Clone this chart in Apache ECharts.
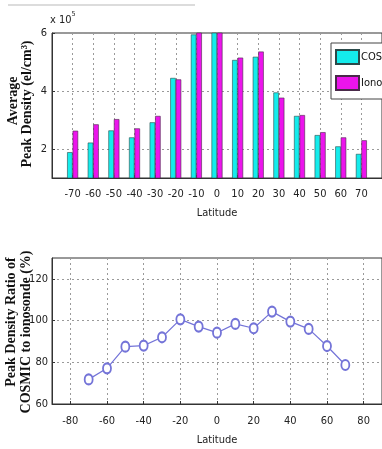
<!DOCTYPE html>
<html>
<head>
<meta charset="utf-8">
<script src="https://cdn.jsdelivr.net/npm/echarts@6/dist/echarts.min.js"></script>
<style>
  html, body { margin: 0; padding: 0; background: #fff; }
  #chart { width: 382px; height: 449px; }
</style>
</head>
<body>
<div id="chart"></div>
<script>
// Upper panel: average peak density per latitude bin (x 10^5 el/cm^3)
const latitudes = [-70, -60, -50, -40, -30, -20, -10, 0, 10, 20, 30, 40, 50, 60, 70];
const cosDensity = [1.89, 2.22, 2.64, 2.40, 2.92, 4.45, 5.95, 6.30, 5.07, 5.18, 3.95, 3.14, 2.48, 2.09, 1.83];
const ionoDensity = [2.63, 2.85, 3.03, 2.71, 3.14, 4.40, 6.10, 6.40, 5.15, 5.36, 3.77, 3.17, 2.58, 2.40, 2.30];
const densityTicks = [2, 4, 6];
const densityLatTicks = [-70, -60, -50, -40, -30, -20, -10, 0, 10, 20, 30, 40, 50, 60, 70];

// Lower panel: COSMIC / ionosonde peak density ratio (%)
const ratioLat = [-70, -60, -50, -40, -30, -20, -10, 0, 10, 20, 30, 40, 50, 60, 70];
const ratioPct = [71.8, 77.1, 87.5, 88.0, 92.0, 100.6, 97.1, 94.2, 98.4, 96.3, 104.3, 99.5, 96.0, 87.8, 78.7];
const ratioTicks = [60, 80, 100, 120];
const ratioLatTicks = [-80, -60, -40, -20, 0, 20, 40, 60, 80];

const narrow = "'Liberation Sans Narrow','DejaVu Sans Condensed',sans-serif";
const serif = "'Liberation Serif','DejaVu Serif',serif";
const gridLine = { show: true, lineStyle: { color: '#9a9a9a', type: [2, 3], width: 1 } };
const tickLabel = { color: '#222', fontFamily: narrow, fontSize: 11 };
const axisLine = { show: true, onZero: false, lineStyle: { color: '#333' } };

const chart = echarts.init(document.getElementById('chart'), null, { renderer: 'canvas' });

chart.setOption({
  animation: false,
  backgroundColor: '#fff',
  grid: [
    { left: 52, top: 33, width: 331, height: 145, show: true, borderColor: '#333', borderWidth: 1, backgroundColor: 'transparent' },
    { left: 52, top: 258, width: 331, height: 146, show: true, borderColor: '#333', borderWidth: 1, backgroundColor: 'transparent' }
  ],
  legend: {
    data: ['COS', 'Iono'],
    orient: 'vertical',
    icon: 'rect',
    left: 331,
    top: 43,
    padding: [6, 24, 8, 4],
    itemGap: 10,
    itemWidth: 23,
    itemHeight: 14,
    backgroundColor: '#fff',
    borderColor: '#444',
    borderWidth: 1,
    textStyle: { fontFamily: narrow, fontSize: 11, color: '#111', padding: [0, 0, 0, -3] }
  },
  xAxis: [
    {
      gridIndex: 0, type: 'value', min: -80, max: 80,
      axisLine: axisLine,
      axisTick: { show: true, inside: true, length: 3, customValues: densityLatTicks, lineStyle: { color: '#333' } },
      axisLabel: { ...tickLabel, margin: 11, customValues: densityLatTicks },
      splitLine: gridLine,
      name: 'Latitude', nameLocation: 'middle', nameGap: 30,
      nameTextStyle: { fontFamily: narrow, fontSize: 11, color: '#222' }
    },
    {
      gridIndex: 1, type: 'value', min: -90, max: 90,
      axisLine: axisLine,
      axisTick: { show: true, inside: true, length: 3, customValues: ratioLatTicks, lineStyle: { color: '#333' } },
      axisLabel: { ...tickLabel, margin: 12, customValues: ratioLatTicks },
      splitLine: gridLine,
      name: 'Latitude', nameLocation: 'middle', nameGap: 31,
      nameTextStyle: { fontFamily: narrow, fontSize: 11, color: '#222' }
    }
  ],
  yAxis: [
    {
      gridIndex: 0, type: 'value', min: 1, max: 6,
      axisLine: axisLine,
      axisTick: { show: true, inside: true, length: 3, customValues: densityTicks, lineStyle: { color: '#333' } },
      axisLabel: { ...tickLabel, margin: 5, customValues: densityTicks },
      splitLine: gridLine
    },
    {
      gridIndex: 1, type: 'value', min: 60, max: 130,
      axisLine: axisLine,
      axisTick: { show: true, inside: true, length: 3, customValues: ratioTicks, lineStyle: { color: '#333' } },
      axisLabel: { ...tickLabel, margin: 4, customValues: ratioTicks },
      splitLine: gridLine
    }
  ],
  series: [
    {
      name: 'COS', type: 'bar', xAxisIndex: 0, yAxisIndex: 0,
      data: latitudes.map((lat, i) => [lat, cosDensity[i]]),
      barWidth: 5.5, barGap: '0%',
      itemStyle: { color: '#14ecec', borderColor: '#2a4a4a', borderWidth: 0.6 }
    },
    {
      name: 'Iono', type: 'bar', xAxisIndex: 0, yAxisIndex: 0,
      data: latitudes.map((lat, i) => [lat, ionoDensity[i]]),
      barWidth: 5.5, barGap: '0%',
      itemStyle: { color: '#ec14ec', borderColor: '#4a2a4a', borderWidth: 0.6 }
    },
    {
      name: 'Ratio', type: 'line', xAxisIndex: 1, yAxisIndex: 1,
      data: ratioLat.map((lat, i) => [lat, ratioPct[i]]),
      symbol: 'emptyCircle', symbolSize: [8, 10],
      lineStyle: { color: '#7474d8', width: 1.2 },
      itemStyle: { color: '#7474d8', borderColor: '#7474d8', borderWidth: 1 }
    }
  ],
  graphic: [
    { type: 'line', shape: { x1: 8, y1: 5, x2: 195, y2: 5 }, style: { stroke: '#dcdcdc', lineWidth: 2 } },
    {
      type: 'text', x: 50, y: 11,
      style: {
        text: '{a|x 10}{s|5}', fill: '#222',
        rich: {
          a: { fontFamily: narrow, fontSize: 11, color: '#222', verticalAlign: 'bottom' },
          s: { fontFamily: narrow, fontSize: 7, color: '#222', verticalAlign: 'top', padding: [0, 0, 8, 0] }
        }
      }
    },
    {
      type: 'text', x: 13, y: 101, rotation: Math.PI / 2,
      style: { text: 'Average', font: 'bold 14px ' + serif, fill: '#111', align: 'center', verticalAlign: 'middle' }
    },
    {
      type: 'text', x: 27, y: 104, rotation: Math.PI / 2,
      style: { text: 'Peak Density (el/cm³)', font: 'bold 14px ' + serif, fill: '#111', align: 'center', verticalAlign: 'middle' }
    },
    {
      type: 'text', x: 11, y: 322, rotation: Math.PI / 2,
      style: { text: 'Peak Density Ratio of', font: 'bold 14px ' + serif, fill: '#111', align: 'center', verticalAlign: 'middle' }
    },
    {
      type: 'text', x: 26, y: 332, rotation: Math.PI / 2,
      style: { text: 'COSMIC to ionosonde (%)', font: 'bold 14px ' + serif, fill: '#111', align: 'center', verticalAlign: 'middle' }
    }
  ]
});
</script>
</body>
</html>
